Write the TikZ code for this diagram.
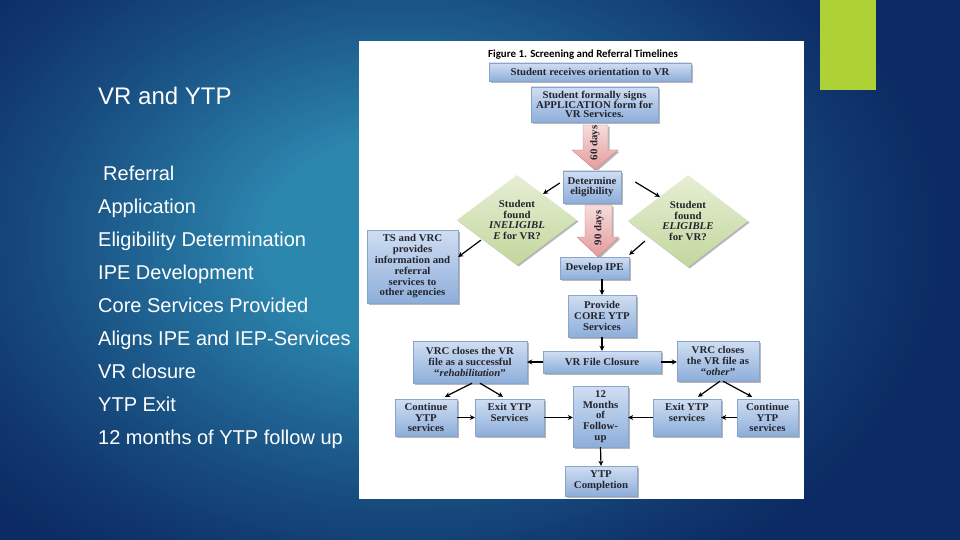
\documentclass[tikz,border=0pt]{standalone}
\usepackage{fontspec}
\setmainfont{Liberation Sans}
\newfontfamily\boxfont[FakeStretch=1.04]{Liberation Serif}
\newfontfamily\titlefont{Carlito}
\usetikzlibrary{shadows,shapes.geometric,arrows.meta}
\definecolor{navy}{HTML}{0C2B64}
\definecolor{glow}{HTML}{2C87AF}
\definecolor{limeg}{HTML}{AED136}
\definecolor{boxtop}{HTML}{D0DEF2}
\definecolor{boxbot}{HTML}{8DAEDA}
\definecolor{boxedge}{HTML}{8AA5CC}
\definecolor{dtop}{HTML}{E6EED5}
\definecolor{dbot}{HTML}{C3D79C}
\definecolor{pinktop}{HTML}{F7DCDC}
\definecolor{pinkbot}{HTML}{E39B9B}
\definecolor{boxtext}{HTML}{24242E}
\begin{document}
\begin{tikzpicture}[x=1pt,y=-1pt,
  shad/.style={drop shadow={shadow xshift=1.6pt, shadow yshift=-1.6pt, opacity=0.4, fill=black!70}},
  boxfnt/.style={font=\boxfont\bfseries\fontsize{10.4}{10.8}\selectfont},
  box/.style={draw=boxedge, line width=0.4pt, top color=boxtop, bottom color=boxbot, shad,
    boxfnt, text=boxtext, align=center, inner sep=1pt},
  dia/.style={shape=diamond, aspect=1.3, top color=dtop, bottom color=dbot, shad,
    boxfnt, text=boxtext, align=center, inner sep=0pt},
  conn/.style={-{Stealth[length=5pt,width=5pt]}, line width=1.2pt, black},
  pinkarrow/.style={top color=pinktop, bottom color=pinkbot, draw=pinkbot!85!black, line width=0.3pt, shad},
  daytxt/.style={rotate=90, boxfnt, text=boxtext, inner sep=0pt},
  listtxt/.style={anchor=base west, inner sep=0pt, text=white, font=\fontsize{20}{24}\selectfont}
]
\useasboundingbox (0,0) rectangle (960,540);
\fill[navy] (0,0) rectangle (960,540);
\begin{scope}
  \clip (0,0) rectangle (960,540);
  \foreach \i in {1,...,79} {
    \pgfmathsetmacro\dd{1-\i/80}
    \pgfmathsetmacro\pp{100*min(1,(\i/60)^1.3)}
    \fill[glow!\pp!navy] (400,240) ellipse [x radius=550*\dd, y radius=400*\dd];
  }
\end{scope}
\fill[limeg] (820,0) rectangle (876,90);
\fill[white] (359,41) rectangle (804,499);

% left text
\node[listtxt, font=\fontsize{24}{28}\selectfont] (t0) at (98,105) {VR and YTP};
\node[listtxt] (t1) at (103,180) {Referral};
\node[listtxt] (t2) at (98,213) {Application};
\node[listtxt] (t3) at (98,246) {Eligibility Determination};
\node[listtxt] (t4) at (98,279) {IPE Development};
\node[listtxt] (t5) at (98,312) {Core Services Provided};
\node[listtxt] (t6) at (98,345) {Aligns IPE and IEP-Services};
\node[listtxt] (t7) at (98,378) {VR closure};
\node[listtxt] (t8) at (98,411) {YTP Exit};
\node[listtxt] (t9) at (98,444) {12 months of YTP follow up};

% flowchart
\node[font=\titlefont\bfseries\fontsize{10.9}{12}\selectfont, text=black, inner sep=0pt] (title) at (583,55) {Figure 1. Screening and Referral Timelines};

\path[pinkarrow] (583,125) -- (608,125) -- (608,150) -- (618,150) -- (595,170) -- (572,150) -- (583,150) -- cycle;
\node[daytxt] (d60) at (595,143) {60 days};
\path[pinkarrow] (585,205) -- (612,205) -- (612,237) -- (619,237) -- (598,257) -- (577,237) -- (585,237) -- cycle;
\node[daytxt] (d90) at (599,228) {90 days};

\node[box, minimum width=202, minimum height=18] (orient) at (590,72) {Student receives orientation to VR};
\node[box, minimum width=127, minimum height=35, font=\boxfont\bfseries\fontsize{10.4}{9.9}\selectfont] (apply) at (594.5,104.5) {Student formally signs\\APPLICATION form for\\VR Services.};
\node[box, minimum width=58, minimum height=32] (determ) at (592,187) {Determine\\eligibility};
\node[dia, minimum width=120, minimum height=90] (inel) at (517,220) {Student\\found\\\textit{INELIGIBL}\\\textit{E} for VR?};
\node[dia, minimum width=120, minimum height=92] (elig) at (688,221) {Student\\found\\\textit{ELIGIBLE}\\for VR?};
\node[box, minimum width=91, minimum height=73] (ts) at (412.5,266.5) {TS and VRC\\provides\\information and\\referral\\services to\\other agencies};
\node[box, minimum width=69, minimum height=22] (devipe) at (594.5,268) {Develop IPE};
\node[box, minimum width=68, minimum height=42] (core) at (602,316) {Provide\\CORE YTP\\Services};
\node[box, minimum width=118, minimum height=22] (closure) at (602,362) {VR File Closure};
\node[box, minimum width=114, minimum height=42] (vrcl) at (470,362) {VRC closes the VR\\file as a successful\\“\textit{rehabilitation}”};
\node[box, minimum width=82, minimum height=40] (vrcr) at (718,361) {VRC closes\\the VR file as\\“\textit{other}”};
\node[box, minimum width=62, minimum height=37] (contl) at (426,417.5) {Continue\\YTP\\services};
\node[box, minimum width=69, minimum height=37] (exitl) at (509.5,417.5) {Exit YTP\\Services\\~};
\node[box, minimum width=55, minimum height=61] (months) at (600.5,416.5) {12\\Months\\of\\Follow-\\up};
\node[box, minimum width=68, minimum height=37] (exitr) at (687,417.5) {Exit YTP\\services\\~};
\node[box, minimum width=61, minimum height=37] (contr) at (767.5,417.5) {Continue\\YTP\\services};
\node[box, minimum width=72, minimum height=30] (ytpc) at (601,481) {YTP\\Completion};

% connectors
\draw[conn] ([shift={(-3,-4)}]determ.west) -- ([shift={(-4,-3.5)}]inel.north east);
\draw[conn] ([shift={(14,-5)}]determ.east) -- ([shift={(2,-1)}]elig.north west);
\draw[conn] ([shift={(-6,-2.5)}]inel.south west) -- ([shift={(0,-9.5)}]ts.east);
\draw[conn] ([shift={(-13,-3)}]elig.south west) -- ([shift={(0,-2)}]devipe.north east);
\draw[conn] (core.north |- devipe.south) -- (core.north);
\draw[conn] (core.south) -- (closure.north);
\draw[conn] (closure.west) -- (vrcl.east);
\draw[conn] (closure.east) -- (closure.east -| vrcr.west);
\draw[conn] ([xshift=2]vrcl.south) -- ([shift={(19,-2)}]contl.north);
\draw[conn] ([xshift=10]vrcl.south) -- ([shift={(-6.5,-2)}]exitl.north);
\draw[conn] ([xshift=2]vrcr.south) -- ([shift={(11,-2)}]exitr.north);
\draw[conn] ([xshift=5]vrcr.south) -- ([shift={(-15.5,-2)}]contr.north);
\draw[conn] (contl.east) -- (exitl.west);
\draw[conn] (exitl.east) -- (exitl.east -| months.west);
\draw[conn] (exitr.west) -- (exitr.west -| months.east);
\draw[conn] (contr.west) -- (exitr.east);
\draw[conn] (months.south) -- (ytpc.north);
\end{tikzpicture}
\end{document}
